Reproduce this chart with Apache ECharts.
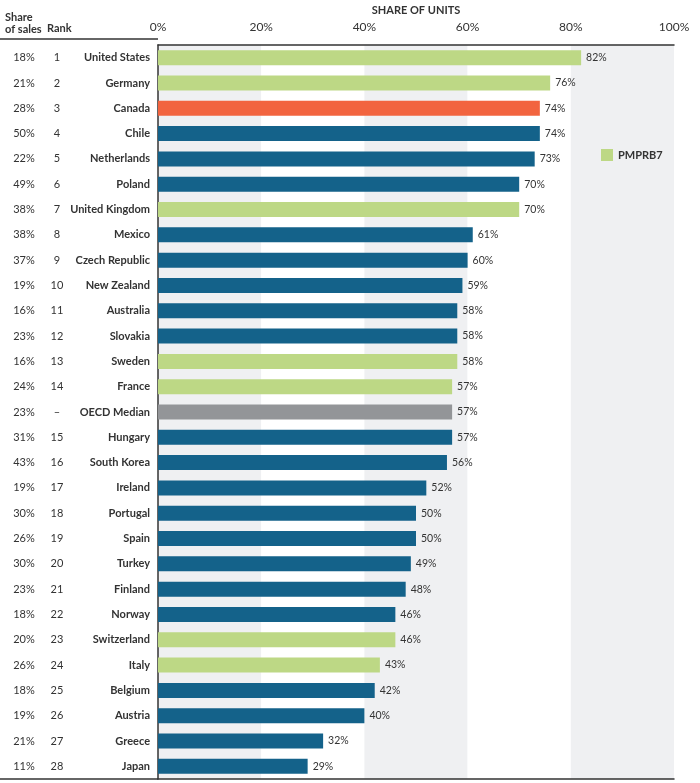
<!DOCTYPE html>
<html>
<head>
<meta charset="utf-8">
<script src="https://cdn.jsdelivr.net/npm/echarts@6/dist/echarts.min.js"></script>
<style>html,body{margin:0;padding:0;background:#fff}#c{width:700px;height:783px}</style>
</head>
<body>
<div id="c"></div>
<script>
const countries = ["United States","Germany","Canada","Chile","Netherlands","Poland","United Kingdom","Mexico","Czech Republic","New Zealand","Australia","Slovakia","Sweden","France","OECD Median","Hungary","South Korea","Ireland","Portugal","Spain","Turkey","Finland","Norway","Switzerland","Italy","Belgium","Austria","Greece","Japan"];
const shareOfUnits = [82,76,74,74,73,70,70,61,60,59,58,58,58,57,57,57,56,52,50,50,49,48,46,46,43,42,40,32,29];
const shareOfSales = ["18%","21%","28%","50%","22%","49%","38%","38%","37%","19%","16%","23%","16%","24%","23%","31%","43%","19%","30%","26%","30%","23%","18%","20%","26%","18%","19%","21%","11%"];
const ranks = ["1","2","3","4","5","6","7","8","9","10","11","12","13","14","–","15","16","17","18","19","20","21","22","23","24","25","26","27","28"];
// group: P = PMPRB7, C = Canada, M = OECD median, O = other
const groups = ["P","P","C","O","O","O","P","O","O","O","O","O","P","P","M","O","O","O","O","O","O","O","O","P","P","O","O","O","O"];
const xTicks = [0,20,40,60,80,100];

const groupDefs = [
  {key:"P", name:"PMPRB7", color:"#bdd885"},
  {key:"C", name:"Canada", color:"#f2643f"},
  {key:"O", name:"Other", color:"#14628a"},
  {key:"M", name:"OECD Median", color:"#939598"}
];

const font = "Lato, 'Noto Sans', sans-serif";
const txt = "#333";

const series = groupDefs.map(g => ({
  name: g.name,
  type: "bar",
  stack: "all",
  barWidth: 15,
  itemStyle: {color: g.color},
  label: {show: true, position: "right", distance: 5, formatter: "{c}%", color: txt, fontSize: 10.5, fontFamily: font},
  data: shareOfUnits.map((v, i) => groups[i] === g.key ? v : "-"),
  xAxisIndex: 0,
  yAxisIndex: 0
}));

const chart = echarts.init(document.getElementById("c"));
chart.setOption({
  animation: false,
  grid: {left: 158, right: 26, top: 39, bottom: 4, containLabel: false},
  legend: {
    data: ["PMPRB7"], left: 596, top: 144, itemWidth: 12, itemHeight: 12, icon: "rect",
    textStyle: {fontFamily: font, fontSize: 11, fontWeight: "bold", color: txt}, itemGap: 5
  },
  xAxis: [{
    type: "value", position: "top", min: 0, max: 100, interval: 20,
    name: "SHARE OF UNITS", nameLocation: "middle", nameGap: 29,
    nameTextStyle: {fontFamily: font, fontSize: 11, fontWeight: "bold", color: txt},
    axisLine: {show: true, lineStyle: {color: "#333", width: 1.5}},
    axisTick: {show: false},
    axisLabel: {formatter: v => xTicks.includes(v) ? v + "%" : "", fontFamily: font, fontSize: 12, color: txt, margin: 12},
    splitLine: {show: false},
    splitArea: {show: true, areaStyle: {color: ["#eff0f2", "#ffffff"]}}
  }, {
    type: "value", position: "bottom", min: 0, max: 100, interval: 20,
    axisLine: {show: true, lineStyle: {color: "#333", width: 1.5}},
    axisTick: {show: false}, axisLabel: {show: false}, splitLine: {show: false}
  }],
  yAxis: [{
    type: "category", inverse: true, data: countries,
    axisLine: {show: true, lineStyle: {color: "#333", width: 1.5}},
    axisTick: {show: false},
    axisLabel: {fontFamily: font, fontSize: 11, color: txt, margin: 8, fontWeight: "bold"}
  }, {
    type: "category", inverse: true, data: shareOfSales, position: "left", offset: 134,
    axisLine: {show: false}, axisTick: {show: false},
    axisLabel: {fontFamily: font, fontSize: 11, color: txt, margin: 0, align: "center"}
  }, {
    type: "category", inverse: true, data: ranks, position: "left", offset: 101,
    axisLine: {show: false}, axisTick: {show: false},
    axisLabel: {fontFamily: font, fontSize: 11, color: txt, margin: 0, align: "center"}
  }],
  graphic: [
    {type: "line", shape: {x1: 0, y1: 39, x2: 158, y2: 39}, style: {stroke: "#333", lineWidth: 1.5}, z: 10},
    {type: "line", shape: {x1: 0, y1: 779, x2: 158, y2: 779}, style: {stroke: "#333", lineWidth: 1.5}, z: 10},
    {type: "text", left: 5, top: 11, style: {text: "Share\nof sales", font: "bold 11px " + font, fill: txt, lineHeight: 12}},
    {type: "text", left: 47, top: 23, style: {text: "Rank", font: "bold 11px " + font, fill: txt}}
  ],
  series: series
});
</script>
</body>
</html>
